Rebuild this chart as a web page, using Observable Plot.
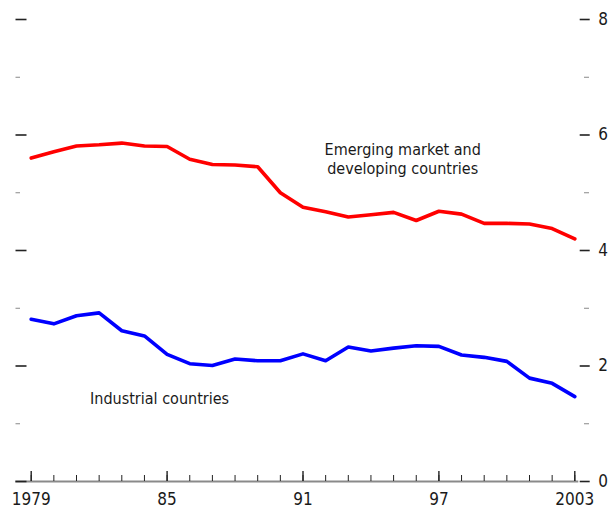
<!DOCTYPE html>
<html><head><meta charset="utf-8">
<script src="https://cdn.jsdelivr.net/npm/d3@7"></script>
<script src="https://cdn.jsdelivr.net/npm/@observablehq/plot@0.6"></script>
<style>
html,body{margin:0;padding:0;background:#fff}
</style>
</head><body><div id="chart"></div>
<script>
const years = [1979,1980,1981,1982,1983,1984,1985,1986,1987,1988,1989,1990,1991,1992,1993,1994,1995,1996,1997,1998,1999,2000,2001,2002,2003];
const emerging = [5.60,5.71,5.81,5.83,5.86,5.81,5.80,5.58,5.49,5.48,5.45,5.00,4.75,4.67,4.58,4.62,4.66,4.52,4.68,4.63,4.47,4.47,4.46,4.38,4.20];
const industrial = [2.81,2.73,2.87,2.92,2.61,2.52,2.20,2.04,2.01,2.12,2.09,2.09,2.21,2.09,2.33,2.26,2.31,2.35,2.34,2.19,2.15,2.08,1.79,1.70,1.47];
const majorYears = [1979,1985,1991,1997,2003];
const majorYearLabels = ["1979","85","91","97","2003"];
const majorY = [0,2,4,6,8];
const minorY = [1,3,5,7];
const seriesLabels = ["Emerging market and\ndeveloping countries","Industrial countries"];
const labelX = [1995.4, 1981.6];
const labelY = [5.59, 1.43];

const FONT = '"DejaVu Sans Condensed", "Liberation Sans Narrow", sans-serif';
const emData = years.map((y,i)=>({year:y, value:emerging[i]}));
const inData = years.map((y,i)=>({year:y, value:industrial[i]}));

const chart = Plot.plot({
  width: 608, height: 510,
  marginLeft: 30.7, marginRight: 33.7, marginTop: 19, marginBottom: 29,
  x: {domain: [1979, 2003], label: null},
  y: {domain: [0, 8], label: null},
  style: {fontFamily: FONT, fontSize: "16px", background: "#fff", color: "#1a1a1a"},
  marks: [
    Plot.ruleY([0], {stroke: "#8a8a8a", strokeWidth: 2, insetLeft: -15.5, insetRight: -4}),
    Plot.axisY({anchor: "left", ticks: minorY, tickSize: 4.5, dx: -10.7, tickFormat: () => "", stroke: "#888", label: null}),
    Plot.axisY({anchor: "left", ticks: majorY, tickSize: 11, dx: -4.2, tickFormat: () => "", stroke: "#222", strokeWidth: 1.6, label: null}),
    Plot.axisY({anchor: "right", ticks: minorY, tickSize: 5, dx: 8.7, tickFormat: () => "", stroke: "#888", label: null}),
    Plot.axisY({anchor: "right", ticks: majorY, tickSize: 10, dx: 4.4, tickPadding: 9, tickFormat: d => String(d), stroke: "#222", strokeWidth: 1.6, fontSize: 17, label: null}),
    Plot.axisX({anchor: "bottom", ticks: years, tickSize: -6, tickFormat: () => "", stroke: "#222", strokeWidth: 1, label: null}),
    Plot.axisX({anchor: "bottom", ticks: majorYears, tickSize: -10, tickPadding: 21, tickFormat: d => majorYearLabels[majorYears.indexOf(d)], stroke: "#222", strokeWidth: 1.4, fontSize: 17, label: null}),
    Plot.line(emData, {x: "year", y: "value", stroke: "#ff0000", strokeWidth: 3.6}),
    Plot.line(inData, {x: "year", y: "value", stroke: "#0000ff", strokeWidth: 3.6}),
    Plot.text([0], {x: () => labelX[0], y: () => labelY[0], text: () => seriesLabels[0], fontSize: 16, lineAnchor: "middle", lineHeight: 1.17, textAnchor: "middle", fill: "#1a1a1a"}),
    Plot.text([1], {x: () => labelX[1], y: () => labelY[1], text: () => seriesLabels[1], fontSize: 16, lineAnchor: "middle", textAnchor: "start", fill: "#1a1a1a"})
  ]
});
document.getElementById("chart").appendChild(chart);
</script>
</body></html>
